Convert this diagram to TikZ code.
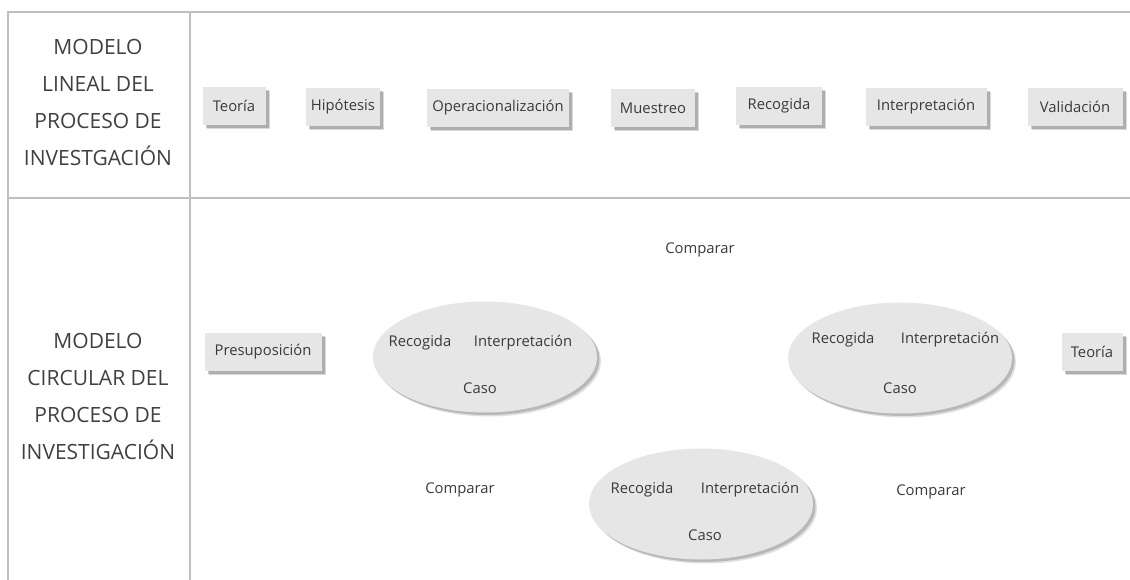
\documentclass[tikz,border=0pt]{standalone}
\usepackage{fontspec}
\setmainfont{Open Sans}
\usetikzlibrary{shapes.geometric,shadows}
\definecolor{linegray}{HTML}{BFBFBF}
\definecolor{boxfill}{HTML}{E6E6E6}
\definecolor{txt}{HTML}{3A3A3A}
\definecolor{sidetxt}{HTML}{404040}
\begin{document}
\begin{tikzpicture}[x=1pt,y=-1pt,
  tableline/.style={draw=linegray,line width=1.6pt},
  stepbox/.style={fill=boxfill,inner sep=0pt,minimum height=38pt,text=txt,
    font=\fontsize{14.8}{16}\selectfont,
    drop shadow={shadow xshift=4pt,shadow yshift=-4pt,fill=black,opacity=0.15},
    drop shadow={shadow xshift=3pt,shadow yshift=-3pt,fill=black,opacity=0.2}},
  cyc/.style={ellipse,fill=boxfill,minimum width=224pt,minimum height=111pt,inner sep=0pt,
    drop shadow={shadow xshift=4pt,shadow yshift=-4pt,fill=black,opacity=0.12},
    drop shadow={shadow xshift=2.5pt,shadow yshift=-2.5pt,fill=black,opacity=0.18}},
  lbl/.style={text=txt,font=\fontsize{14.8}{16}\selectfont,inner sep=0pt},
  side/.style={text=sidetxt,align=center,font=\fontsize{21}{37}\selectfont,inner sep=0pt}]
\useasboundingbox (0,0) rectangle (1130,580);
% table
\coordinate (tl) at (8,12);
\coordinate (tr) at (1130,12);
\coordinate (ml) at (8,198);
\coordinate (mr) at (1130,198);
\coordinate (bl) at (8,580);
\coordinate (mt) at (190,12);
\coordinate (mb) at (190,580);
\draw[tableline] (tr) -- (tl) -- (bl);
\draw[tableline] (ml) -- (mr);
\draw[tableline] (mt) -- (mb);
% side labels
\node[side] (s1) at (98,102) {MODELO\\LINEAL DEL\\PROCESO DE\\INVESTGACIÓN};
\node[side] (s2) at (98,396) {MODELO\\CIRCULAR DEL\\PROCESO DE\\INVESTIGACIÓN};
% linear model
\node[stepbox,minimum width=63pt] (b1) at (234,106) {Teoría};
\node[stepbox,minimum width=74pt] (b2) at (343,107) {Hipótesis};
\node[stepbox,minimum width=142pt] (b3) at (498,108) {Operacionalización};
\node[stepbox,minimum width=84pt] (b4) at (653,108) {Muestreo};
\node[stepbox,minimum width=86pt] (b5) at (779,106) {Recogida};
\node[stepbox,minimum width=121pt] (b6) at (926,107) {Interpretación};
\node[stepbox,minimum width=95pt] (b7) at (1075,107) {Validación};
% circular model
\node[stepbox,minimum width=117pt] (p) at (263,352) {Presuposición};
\node[stepbox,minimum width=61pt] (t) at (1092,352) {Teoría};
\node[cyc] (e1) at (485,357) {};
\node[cyc] (e2) at (900,358) {};
\node[cyc] (e3) at (701,504) {};
\node[lbl] (e1r) at (420,343) {Recogida};
\node[lbl] (e1i) at (523,343) {Interpretación};
\node[lbl] (e1c) at (480,388) {Caso};
\node[lbl] (e2r) at (843,340) {Recogida};
\node[lbl] (e2i) at (950,340) {Interpretación};
\node[lbl] (e2c) at (900,388) {Caso};
\node[lbl] (e3r) at (642,490) {Recogida};
\node[lbl] (e3i) at (750,490) {Interpretación};
\node[lbl] (e3c) at (705,535) {Caso};
\node[lbl] (c1) at (700,250) {Comparar};
\node[lbl] (c2) at (460,490) {Comparar};
\node[lbl] (c3) at (931,492) {Comparar};
\end{tikzpicture}
\end{document}
